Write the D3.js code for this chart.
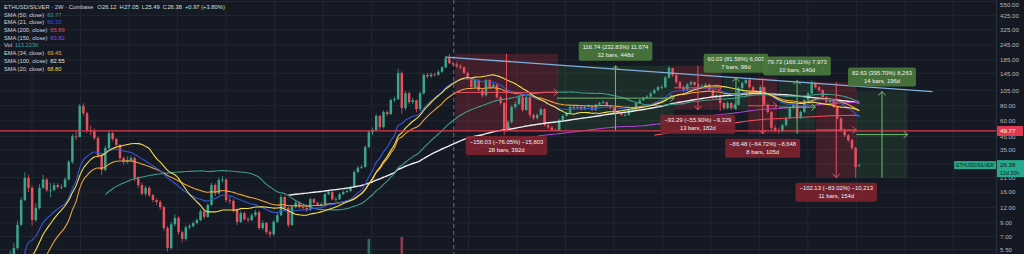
<!DOCTYPE html>
<html><head><meta charset="utf-8">
<script src="https://cdn.jsdelivr.net/npm/d3@7"></script>
<style>html,body{margin:0;padding:0;background:#151924;overflow:hidden}svg{display:block}</style>
</head><body><svg id="c" width="1024" height="254"></svg>
<script>
// ---------- DATA (2W bars, ETHUSD/SILVER, Coinbase) ----------
const closes = [0.70,0.65,0.62,0.58,0.54,0.60,0.62,0.72,0.70,0.65,0.57,0.59,0.50,0.49,0.60,0.62,0.62,0.71,0.95,1.6,
2.7,2.7,4.3,5.0,5.65,8.7,13.8,20.8,17.3,9.5,11.9,17.3,20.2,16.6,16.6,18.2,17.6,17.6,20.2,28,
45,44.5,79,69,50.6,49.5,43.6,31.8,24.1,36.2,47.7,42.8,38.4,30.1,28,29,30.1,20.8,18.2,15.5,
17.3,15.1,13.8,13.3,12.1,8.2,5.65,8.8,9.9,7.6,6.7,8.3,8.5,9.0,9.5,11.2,10.1,12.6,18.2,15.6,
20,20.2,13.8,13.6,11.5,9.2,10.8,9.7,9.5,10.4,11.0,8.2,9.0,7.6,7.3,9.2,10.4,14.6,11.9,8.7,
12.1,13.1,12.1,11.9,11.5,14.0,13.1,12.6,12.8,15.4,16.0,14.0,14.0,15.4,16.0,16.3,17.6,23.2,25.1,25.5,
36.9,48.6,50.6,65.7,53.5,70.6,68,88.3,90,146,76,100,85,88,74.5,100,141,137,142,141,
149,162,192,175,171,166,162,146,132,112,128,106,96.5,128,112,117,93,83.5,51.5,58.6,
77.8,82,93,73.4,93,67,63,67,74.5,55.4,53,50.6,49.7,61,65.7,69.5,77.8,76,77.8,74.5,
77.8,79,73.4,81,83.5,85,79,76,72,69.5,67,67,73.4,73.4,83.5,88,91.7,94,100,106,
112,112,134,160,140,123,112,106,118,123,117,114,114,118,106,93,96.5,83.5,76,83.5,
76,81,110,121,128,112,102,100,112,81,70.6,52.6,50.6,49.7,55.4,63,76,81,63,70.6,
88,100,121,112,106,93,85,90,77.8,63,50.6,46,42,36.2,25.41,26.38];
const highs = [0.78,0.74,0.68,0.64,0.60,0.63,0.66,0.75,0.76,0.72,0.67,0.62,0.60,0.53,0.62,0.66,0.66,0.74,1.05,2.4,
2.9,3.0,4.6,5.4,6.2,9.4,14.5,23,22,18,13,18.5,22,20.8,19,19,18.9,18.5,21,29,
47,50,82,83,71,55,52,45,33,38,50,49,44,39,31,31,31.5,31,21.5,19,
18,17.8,15.5,14.3,13.8,12.4,8.5,9.2,10.6,10.2,7.8,8.6,8.9,9.3,9.8,11.6,11.5,13,19,18.8,
21,21.5,20.6,14.6,14,11.8,11.2,11.1,10.1,10.8,11.5,11.3,9.4,9.2,7.9,9.5,10.8,15.3,15,12.2,
12.6,13.6,13.5,12.5,12.3,14.4,14.3,13.4,13.2,15.8,16.6,16.3,14.6,15.8,16.5,16.8,18,24,26,26.5,
38,50.5,53,68,67,73,73,91,94,158,150,104,103,92,89,103,145,146,147,147,
154,166,201,207.8,181,178,172,165,149,134,132,130,109,131,131,121,119,96,85,61,
80,86,97,95,96,95,69,69,77,76,57,54.5,52,62.5,67.5,71.5,79.5,80,80,79,
79.5,81.5,80,82.5,85.5,88,86.5,80.5,77,73.5,71,69.5,75,76,85,90,94,97,103,109,
115,117,138,166.88,161,143,126,116,121,127,126,120,119,122,120,108,99,98,85,86,
85,83,113,125,131,133.61,114,105,115,113,83,72,55,53,57,65,78,84,82,73,
90,103,126.88,123.02,115,108,95,92,91,79,64,52,47,43,37,27.05];
const lows = [0.62,0.60,0.58,0.54,0.50,0.52,0.57,0.60,0.66,0.62,0.55,0.54,0.47,0.45,0.48,0.58,0.59,0.60,0.70,0.93,
1.55,2.4,2.6,4.1,4.8,5.5,8.5,13.5,16,8.6,9.2,11.5,17,16,14.5,16.2,17,16.8,17.3,19.8,
27,42,44,66,48,46,42,30,22,23.5,35,41,37,29,26.5,27,28,19.5,17.3,15,
14.8,14.6,13.2,12.6,11.5,7.8,5.3,5.5,8.5,7.3,6.3,6.5,8.0,8.3,8.8,9.3,9.7,9.9,12.4,14.8,
15.3,19,13.2,12.8,11,8.7,9,9.4,9.1,9.3,10.1,7.9,7.9,7.3,6.9,7.1,9,10.2,11.5,8.3,
8.5,11.8,11.8,11.5,11.1,11.3,12.8,12.3,12.3,12.6,15.1,13.7,13.4,13.8,15.1,15.7,16.1,17.4,22.6,24.5,
25.2,36,46,49.5,51,52,65,67,85,88,68,73,82,82,70,72,98,132,134,137,
138,146,160,172,166,160,156,142,128,108,109,103,92,94,109,110,90,81,46,50,
57,75,80,71,72,64,61,61.5,66,54,51.5,50.2,49.77,49.9,60,65,68.5,74,75,73,
73.5,76.5,72,72.5,80,82,78,74.5,70.5,68,65.5,65,66,71.5,72.5,82,86.5,90,93,98.5,
104,108,110,131,136,119,108,103,104,115,114,111,111,112,103,90,91,71.95,73.58,74.5,
74,74.5,80,107,118,109,99,97,98,79,68.5,50,48.5,47.15,48.5,54,62,74,61.5,62,
69.5,86.5,98,109,103,90.5,83,83.5,76,61.5,49,44.5,40.5,35,20.89,25.49];
const lastOpen = 26.12;
const volBars = [121, 130];
const volValues = [4.7e6, 5.3e6];
const priceTicks = [5.5,7,9,12,16,21,27,35,45,60,80,105,145,185,245,325,425,550];
const hLinePrice = 49.77;
const trendBars = [142, 275];
const trendPrices = [196, 103.4];
const markerBar = 144.2;

// moving averages (name, type, length, legend value)
const maNames = ["SMA (50, close)","EMA (21, close)","SMA (200, close)","SMA (150, close)","Vol","EMA (34, close)","SMA (100, close)","SMA (20, close)"];
const maLegendValues = ["83.77","60.33","65.89","83.82","113.223K","69.45","82.55","68.80"];
const maTypes = ["sma","ema","sma","sma","vol","ema","sma","sma"];
const maLengths = [50,21,200,150,0,34,100,20];
const maColors = ["#3f9a88","#3458d8","#e84a5a","#a646c9","#2ba396","#eba03a","#ececec","#f2dd4c"];

// date & price range drawings
const rangeStartBar = [144.6,172.4,204.4,217.8,224.6,233.0,243.2,254.2];
const rangeEndBar   = [172.6,204.4,217.4,224.8,232.6,243.0,254.2,268.2];
const rangeFrom = [207.8,50.14,166.88,73.58,133.62,47.15,123.02,20.88];
const rangeTo   = [49.77,166.88,73.59,133.61,47.14,126.88,20.89,103.51];
const rangeLine1 = ["\u2212158.03 (\u221276.05%) \u221215,803","116.74 (232.83%) 11,674","\u221293.29 (\u221255.90%) \u22129,329","60.03 (81.58%) 6,003","\u221286.48 (\u221264.72%) \u22128,648","79.73 (169.11%) 7,973","\u2212102.13 (\u221283.02%) \u221210,213","82.63 (395.70%) 8,263"];
const rangeLine2 = ["28 bars, 392d","32 bars, 448d","13 bars, 182d","7 bars, 98d","8 bars, 105d","10 bars, 140d","11 bars, 154d","14 bars, 196d"];

const headerTitle = "ETHUSD/SILVER \u00b7 2W \u00b7 Coinbase";
const ohlcLabels = ["O","H","L","C"];
const ohlcValues = ["26.12","27.05","25.49","26.38"];
const changeText = "+0.97 (+3.80%)";
const symbolTag = "ETHUSD/SILVER";
const countdown = "12d 20h";

// ---------- LAYOUT ----------
const W = 1024, H = 254, axisX = 996;
const FONT = "'Liberation Sans', Arial, sans-serif";
const svg = d3.select("#c");
const x = d3.scaleLinear().domain([0, closes.length - 1]).range([-74, 859.3]);
const y = d3.scaleLog().domain([5.065, 565.6]).range([H, 0]);
const UP = "#3aa58b", DOWN = "#e5525e";

svg.append("rect").attr("width", W).attr("height", H).attr("fill", "#151924");
svg.append("clipPath").attr("id","pc").append("rect").attr("width", axisX).attr("height", H);
const plot = svg.append("g").attr("clip-path","url(#pc)");

// grid
const gridBars = d3.range(0, 20).map(k => 28.96 + 13.25 * k);
plot.append("g").selectAll("line").data(gridBars).join("line")
  .attr("x1", d => x(d)).attr("x2", d => x(d)).attr("y1", 0).attr("y2", H)
  .attr("stroke", "#222632").attr("stroke-width", 1);
plot.append("g").selectAll("line").data(priceTicks).join("line")
  .attr("x1", 0).attr("x2", axisX).attr("y1", d => y(d)).attr("y2", d => y(d))
  .attr("stroke", "#222632").attr("stroke-width", 1);

// volume
const vScale = d3.scaleLinear().domain([0, d3.max(volValues)]).range([0, 17]);
plot.append("g").selectAll("rect").data(volBars).join("rect")
  .attr("x", d => x(d) - 1.3).attr("width", 2.6)
  .attr("y", (d, k) => H - vScale(volValues[k])).attr("height", (d, k) => vScale(volValues[k]))
  .attr("fill", (d) => closes[d] >= closes[d - 1] ? "rgba(58,165,139,0.6)" : "rgba(229,82,94,0.6)");

// dashed marker
plot.append("line").attr("x1", x(markerBar)).attr("x2", x(markerBar)).attr("y1", 0).attr("y2", H)
  .attr("stroke", "#6b6f7c").attr("stroke-dasharray", "4,3").attr("stroke-width", 1);

// range boxes (fills under candles)
const isUp = rangeFrom.map((f, k) => rangeTo[k] > f);
const rg = plot.append("g");
rangeStartBar.forEach((s, k) => {
  const x0 = x(s), x1 = x(rangeEndBar[k]);
  const y0 = y(Math.max(rangeFrom[k], rangeTo[k])), y1 = y(Math.min(rangeFrom[k], rangeTo[k]));
  rg.append("rect").attr("x", x0).attr("y", y0).attr("width", x1 - x0).attr("height", y1 - y0)
    .attr("fill", isUp[k] ? "rgba(76,175,80,0.13)" : "rgba(242,54,69,0.2)");
});

// candles
const bars = closes.map((c, i) => ({ i, c, o: i === 0 ? c : (i === closes.length - 1 ? lastOpen : closes[i - 1]), h: highs[i], l: lows[i] }));
const cg = plot.append("g");
cg.selectAll("line").data(bars).join("line")
  .attr("x1", d => x(d.i)).attr("x2", d => x(d.i))
  .attr("y1", d => y(d.h)).attr("y2", d => y(d.l))
  .attr("stroke", d => d.c >= d.o ? UP : DOWN).attr("stroke-width", 0.8);
cg.selectAll("rect").data(bars).join("rect")
  .attr("x", d => x(d.i) - 1.25).attr("width", 2.5)
  .attr("y", d => y(Math.max(d.o, d.c)))
  .attr("height", d => Math.max(0.8, Math.abs(y(d.o) - y(d.c))))
  .attr("fill", d => d.c >= d.o ? UP : DOWN);

// moving averages
function sma(n) { return closes.map((_, i) => i < n - 1 ? null : d3.mean(closes.slice(i - n + 1, i + 1))); }
function ema(n) {
  const a = 2 / (n + 1); const out = []; let prev = null;
  closes.forEach((c, i) => {
    if (i < n - 1) { out.push(null); return; }
    prev = prev === null ? d3.mean(closes.slice(0, n)) : a * c + (1 - a) * prev;
    out.push(prev);
  });
  return out;
}
const lineGen = d3.line().defined(d => d.v !== null).x(d => x(d.i)).y(d => y(d.v)).curve(d3.curveMonotoneX);
const drawOrder = [6, 2, 3, 0, 5, 1, 7];
drawOrder.forEach(k => {
  const vals = maTypes[k] === "sma" ? sma(maLengths[k]) : ema(maLengths[k]);
  plot.append("path").datum(vals.map((v, i) => ({ i, v })))
    .attr("d", lineGen).attr("fill", "none").attr("stroke", maColors[k])
    .attr("stroke-width", k === 6 ? 1.4 : 1.1);
});

// trend line
plot.append("line").attr("x1", x(trendBars[0])).attr("y1", y(trendPrices[0]))
  .attr("x2", x(trendBars[1])).attr("y2", y(trendPrices[1]))
  .attr("stroke", "#7fb0dc").attr("stroke-width", 1.3);

// horizontal line
plot.append("line").attr("x1", 0).attr("x2", axisX).attr("y1", y(hLinePrice)).attr("y2", y(hLinePrice))
  .attr("stroke", "#e0394f").attr("stroke-width", 1.3);

// range arrows and labels
const ag = svg.append("g");
rangeStartBar.forEach((s, k) => {
  const col = isUp[k] ? "#72b86f" : "#e6505f";
  const x0 = x(s), x1 = x(rangeEndBar[k]), cx = (x0 + x1) / 2;
  const yf = y(rangeFrom[k]), yt = y(rangeTo[k]), cy = (yf + yt) / 2;
  ag.append("line").attr("x1", cx).attr("x2", cx).attr("y1", yf).attr("y2", yt).attr("stroke", col).attr("stroke-width", 1);
  const dir = yt > yf ? 1 : -1;
  ag.append("path").attr("d", `M${cx - 3.5},${yt - dir * 4}L${cx},${yt}L${cx + 3.5},${yt - dir * 4}`).attr("fill", "none").attr("stroke", col).attr("stroke-width", 1);
  ag.append("line").attr("x1", x0).attr("x2", x1).attr("y1", cy).attr("y2", cy).attr("stroke", col).attr("stroke-width", 1);
  ag.append("path").attr("d", `M${x1 - 4},${cy - 3.5}L${x1},${cy}L${x1 - 4},${cy + 3.5}`).attr("fill", "none").attr("stroke", col).attr("stroke-width", 1);

  const lg = ag.append("g");
  const bg = lg.append("rect");
  const t1 = lg.append("text").text(rangeLine1[k]).attr("font-size", 5.9).attr("font-family", FONT).attr("fill", "#f0f0f0").attr("text-anchor", "middle");
  const t2 = lg.append("text").text(rangeLine2[k]).attr("font-size", 5.9).attr("font-family", FONT).attr("fill", "#f0f0f0").attr("text-anchor", "middle");
  const w = Math.max(t1.node().getComputedTextLength(), t2.node().getComputedTextLength()) + 8;
  const h = 19;
  const top = isUp[k] ? Math.min(yf, yt) - 5 - h : Math.max(yf, yt) + 5;
  bg.attr("x", cx - w / 2).attr("y", top).attr("width", w).attr("height", h).attr("rx", 2)
    .attr("fill", isUp[k] ? "rgba(74,122,60,0.9)" : "rgba(125,34,46,0.9)");
  t1.attr("x", cx).attr("y", top + 7.6);
  t2.attr("x", cx).attr("y", top + 15.6);
});

// price axis
svg.append("line").attr("x1", axisX + 0.5).attr("x2", axisX + 0.5).attr("y1", 0).attr("y2", H).attr("stroke", "#2a2e39");
svg.append("g").selectAll("text").data(priceTicks).join("text")
  .attr("x", 1000).attr("y", d => Math.max(y(d) + 2.2, 6.5)).text(d => d.toFixed(2))
  .attr("font-size", 6.2).attr("font-family", FONT).attr("fill", "#b2b5be");

// red price label
const yl = y(hLinePrice);
svg.append("rect").attr("x", axisX + 1).attr("y", yl - 5).attr("width", 26).attr("height", 10).attr("rx", 1).attr("fill", "#e0394f");
svg.append("text").attr("x", 1000).attr("y", yl + 2.3).text(hLinePrice.toFixed(2)).attr("font-size", 6.2).attr("font-family", FONT).attr("fill", "#ffffff");

// last price label
const yc = y(closes[closes.length - 1]);
svg.append("rect").attr("x", axisX + 1).attr("y", yc - 5).attr("width", 28).attr("height", 17).attr("fill", "#26a98e");
svg.append("text").attr("x", 1000).attr("y", yc + 2.3).text(closes[closes.length - 1].toFixed(2)).attr("font-size", 6.2).attr("font-family", FONT).attr("fill", "#0c1a14");
svg.append("text").attr("x", 1000).attr("y", yc + 9.5).text(countdown).attr("font-size", 5.3).attr("font-family", FONT).attr("fill", "#0c1a14");
const tagG = svg.append("g");
const tagBg = tagG.append("rect");
const tag = tagG.append("text").attr("x", axisX - 2).attr("y", yc + 2).attr("text-anchor", "end").text(symbolTag).attr("font-size", 4.8).attr("font-family", FONT).attr("fill", "#0c1a14");
const tw = tag.node().getComputedTextLength();
tagBg.attr("x", axisX - tw - 4).attr("y", yc - 4).attr("width", tw + 4).attr("height", 8).attr("fill", "#26a98e");

// header (laid out sequentially)
const hdr = svg.append("g").attr("font-size", 5.8).attr("font-family", FONT).attr("fill", "#d1d4dc");
let hx = 4;
function hText(str, fill, gap) {
  const t = hdr.append("text").attr("x", hx).attr("y", 9).text(str);
  if (fill) t.attr("fill", fill);
  hx += t.node().getComputedTextLength() + gap;
}
hText(headerTitle, null, 4);
ohlcLabels.forEach((l, k) => {
  hText(l, null, 0.4);
  hText(ohlcValues[k], "#c8e6dc", 3);
});
hText(changeText, "#c8e6dc", 0);

// legend
maNames.forEach((n, k) => {
  const yy = 16.6 + k * 7.7;
  const t = svg.append("text").attr("x", 4).attr("y", yy).text(n).attr("font-size", 5.7).attr("font-family", FONT).attr("fill", "#d1d4dc");
  const tl = t.node().getComputedTextLength();
  svg.append("text").attr("x", 4 + tl + 3).attr("y", yy).text(maLegendValues[k]).attr("font-size", 5.7).attr("font-family", FONT).attr("fill", maColors[k]);
});
</script>
</body></html>
